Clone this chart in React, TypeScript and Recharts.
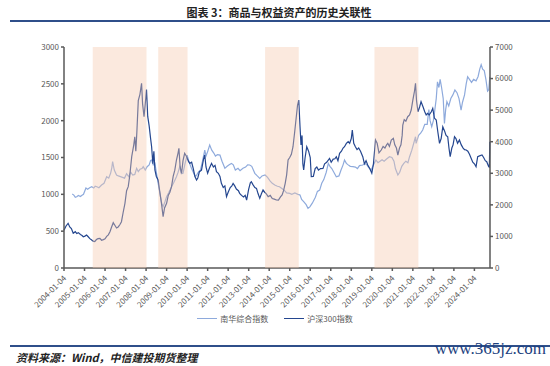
import * as React from 'react';
import { LineChart, Line, XAxis, YAxis, ReferenceArea } from 'recharts';

// 南华综合指数 (left axis), time as decimal year
const nanhuaTimes = [
  2004.4, 2004.48, 2004.55, 2004.62, 2004.7, 2004.8, 2004.86, 2004.95, 2005.07, 2005.15,
  2005.25, 2005.35, 2005.45, 2005.52, 2005.6, 2005.7, 2005.83, 2005.95, 2006.08, 2006.18,
  2006.27, 2006.33, 2006.37, 2006.45, 2006.56, 2006.65, 2006.75, 2006.85, 2006.95, 2007.05,
  2007.15, 2007.25, 2007.35, 2007.45, 2007.54, 2007.62, 2007.7, 2007.8, 2007.86, 2007.96,
  2008.05, 2008.15, 2008.22, 2008.27, 2008.35, 2008.43, 2008.5, 2008.59, 2008.68, 2008.76,
  2008.83, 2008.92, 2009.0, 2009.1, 2009.24, 2009.35, 2009.48, 2009.56, 2009.64, 2009.72,
  2009.8, 2009.9, 2010.0, 2010.08, 2010.21, 2010.3, 2010.4, 2010.46, 2010.55, 2010.65,
  2010.75, 2010.86, 2010.92, 2011.0, 2011.1, 2011.2, 2011.3, 2011.38, 2011.48, 2011.6,
  2011.7, 2011.84, 2011.95, 2012.05, 2012.16, 2012.25, 2012.35, 2012.48, 2012.58, 2012.72,
  2012.85, 2012.95, 2013.05, 2013.15, 2013.3, 2013.42, 2013.54, 2013.65, 2013.8, 2013.92,
  2014.05, 2014.15, 2014.27, 2014.4, 2014.5, 2014.62, 2014.75, 2014.85, 2015.0, 2015.1,
  2015.25, 2015.4, 2015.5, 2015.58, 2015.68, 2015.8, 2015.89, 2015.98, 2016.1, 2016.25,
  2016.35, 2016.46, 2016.56, 2016.66, 2016.78, 2016.88, 2016.96, 2017.05, 2017.15, 2017.27,
  2017.4, 2017.5, 2017.6, 2017.67, 2017.76, 2017.85, 2017.95, 2018.08, 2018.2, 2018.3,
  2018.4, 2018.56, 2018.66, 2018.76, 2018.86, 2018.97, 2019.08, 2019.2, 2019.3, 2019.4,
  2019.5, 2019.6, 2019.72, 2019.86, 2019.98, 2020.08, 2020.15, 2020.27, 2020.36, 2020.46,
  2020.56, 2020.66, 2020.76, 2020.84, 2020.95, 2021.05, 2021.13, 2021.16, 2021.28, 2021.38,
  2021.48, 2021.58, 2021.7, 2021.78, 2021.84, 2021.92, 2022.0, 2022.05, 2022.14, 2022.2,
  2022.27, 2022.33, 2022.4, 2022.48, 2022.54, 2022.6, 2022.66, 2022.75, 2022.85, 2022.95,
  2023.05, 2023.15, 2023.25, 2023.35, 2023.42, 2023.52, 2023.6, 2023.67, 2023.76, 2023.86,
  2023.96, 2024.08, 2024.18, 2024.26, 2024.33, 2024.4, 2024.48, 2024.56, 2024.64, 2024.7,
  2024.75,
];
const nanhuaValues = [
  1004, 990, 960, 968, 985, 970, 985, 1000, 1086, 1070,
  1090, 1103, 1085, 1110, 1103, 1090, 1126, 1150, 1239, 1220,
  1285, 1360, 1443, 1330, 1262, 1250, 1240, 1230, 1220, 1280,
  1240, 1300, 1262, 1270, 1353, 1310, 1340, 1350, 1375, 1330,
  1375, 1400, 1460, 1466, 1400, 1420, 1300, 1149, 1000, 880,
  832, 900, 968, 1020, 1103, 1160, 1239, 1300, 1375, 1280,
  1285, 1420, 1533, 1450, 1353, 1300, 1240, 1262, 1300, 1330,
  1450, 1601, 1520, 1580, 1669, 1600, 1560, 1520, 1540, 1533,
  1450, 1353, 1380, 1400, 1420, 1400, 1330, 1353, 1320, 1353,
  1370, 1400, 1398, 1380, 1285, 1250, 1217, 1250, 1262, 1230,
  1180, 1149, 1126, 1110, 1103, 1080, 1050, 1020, 1013, 1000,
  1020, 1000, 991, 930, 900, 860, 810, 830, 880, 960,
  1040, 1058, 1150, 1200, 1300, 1420, 1380, 1350, 1300, 1239,
  1250, 1330, 1400, 1466, 1420, 1400, 1380, 1375, 1370, 1350,
  1390, 1398, 1420, 1400, 1360, 1330, 1400, 1466, 1430, 1450,
  1470, 1450, 1480, 1511, 1500, 1450, 1350, 1262, 1300, 1380,
  1420, 1450, 1430, 1511, 1600, 1700, 1782, 1692, 1800, 1830,
  1873, 1950, 1950, 2150, 2000, 1917, 2000, 2099, 2300, 2528,
  2450, 2560, 2450, 2300, 1963, 2150, 2257, 2200, 2300, 2350,
  2416, 2380, 2300, 2144, 2250, 2350, 2500, 2596, 2560, 2520,
  2560, 2540, 2600, 2700, 2760, 2700, 2680, 2560, 2400, 2420,
  2596,
];

// 沪深300指数 (right axis)
const csiTimes = [
  2004.0, 2004.1, 2004.2, 2004.28, 2004.36, 2004.45, 2004.55, 2004.62, 2004.7, 2004.8,
  2004.88, 2004.94, 2005.02, 2005.1, 2005.18, 2005.26, 2005.35, 2005.42, 2005.5, 2005.58,
  2005.66, 2005.75, 2005.83, 2005.92, 2006.0, 2006.08, 2006.16, 2006.24, 2006.32, 2006.4,
  2006.47, 2006.56, 2006.64, 2006.72, 2006.8, 2006.88, 2006.97, 2007.05, 2007.13, 2007.2,
  2007.3, 2007.4, 2007.45, 2007.5, 2007.55, 2007.62, 2007.7, 2007.78, 2007.83, 2007.9,
  2007.96, 2008.02, 2008.08, 2008.15, 2008.22, 2008.27, 2008.33, 2008.38, 2008.43, 2008.5,
  2008.59, 2008.66, 2008.75, 2008.83, 2008.9, 2009.0, 2009.08, 2009.16, 2009.24, 2009.32,
  2009.4, 2009.48, 2009.56, 2009.6, 2009.66, 2009.73, 2009.8, 2009.88, 2009.96, 2010.05,
  2010.13, 2010.22, 2010.3, 2010.38, 2010.46, 2010.52, 2010.6, 2010.7, 2010.8, 2010.86,
  2010.92, 2011.0, 2011.08, 2011.19, 2011.28, 2011.36, 2011.43, 2011.52, 2011.6, 2011.67,
  2011.76, 2011.84, 2011.92, 2012.0, 2012.1, 2012.18, 2012.24, 2012.32, 2012.4, 2012.5,
  2012.56, 2012.65, 2012.75, 2012.83, 2012.9, 2013.0, 2013.08, 2013.13, 2013.2, 2013.3,
  2013.38, 2013.46, 2013.54, 2013.62, 2013.7, 2013.78, 2013.86, 2013.95, 2014.05, 2014.15,
  2014.25, 2014.35, 2014.45, 2014.55, 2014.63, 2014.7, 2014.78, 2014.85, 2014.92, 2015.0,
  2015.08, 2015.16, 2015.24, 2015.32, 2015.38, 2015.44, 2015.5, 2015.55, 2015.6, 2015.64,
  2015.68, 2015.75, 2015.83, 2015.92, 2016.0, 2016.05, 2016.15, 2016.24, 2016.32, 2016.4,
  2016.5, 2016.62, 2016.7, 2016.8, 2016.94, 2017.02, 2017.12, 2017.2, 2017.27, 2017.35,
  2017.43, 2017.52, 2017.6, 2017.67, 2017.76, 2017.85, 2017.92, 2018.0, 2018.05, 2018.12,
  2018.2, 2018.28, 2018.36, 2018.45, 2018.56, 2018.64, 2018.72, 2018.8, 2018.9, 2019.0,
  2019.08, 2019.18, 2019.26, 2019.35, 2019.46, 2019.55, 2019.64, 2019.72, 2019.78, 2019.86,
  2019.95, 2020.05, 2020.12, 2020.2, 2020.27, 2020.35, 2020.42, 2020.48, 2020.51, 2020.58,
  2020.66, 2020.75, 2020.84, 2020.92, 2021.0, 2021.08, 2021.13, 2021.18, 2021.25, 2021.33,
  2021.4, 2021.5, 2021.58, 2021.65, 2021.72, 2021.8, 2021.9, 2021.97, 2022.05, 2022.14,
  2022.22, 2022.3, 2022.38, 2022.46, 2022.54, 2022.62, 2022.7, 2022.76, 2022.82, 2022.9,
  2022.96, 2023.03, 2023.1, 2023.18, 2023.27, 2023.36, 2023.45, 2023.52, 2023.6, 2023.68,
  2023.76, 2023.84, 2023.92, 2024.0, 2024.08, 2024.16, 2024.25, 2024.37, 2024.45, 2024.53,
  2024.6, 2024.7, 2024.73, 2024.75,
];
const csiValues = [
  1200, 1330, 1415, 1300, 1250, 1100, 1150, 1090, 1120, 1060,
  1030, 990, 1010, 1045, 990, 930, 887, 850, 835, 900,
  930, 938, 880, 900, 925, 1000, 1050, 1150, 1300, 1435,
  1360, 1267, 1300, 1370, 1467, 1750, 2050, 2450, 2575, 2900,
  3526, 3900, 4158, 3700, 4300, 5300, 5500, 5850, 5200, 4792,
  5200, 5650, 4800, 4500, 4100, 3842, 3300, 3700, 3104, 2900,
  2787, 2450, 2049, 1625, 1900, 2049, 2300, 2400, 2575, 2900,
  3100, 3420, 3650, 3790, 3200, 3000, 3400, 3632, 3550, 3400,
  3315, 3350, 3150, 2900, 2787, 2850, 3051, 3100, 3450, 3579,
  3200, 3000, 3150, 3315, 3200, 3250, 3051, 3000, 2900, 2681,
  2550, 2600, 2260, 2400, 2550, 2600, 2681, 2600, 2500, 2450,
  2365, 2300, 2250, 2300, 2153, 2500, 2700, 2734, 2650, 2550,
  2523, 2350, 2206, 2350, 2470, 2400, 2350, 2260, 2300, 2200,
  2180, 2153, 2150, 2250, 2312, 2450, 2681, 2950, 3420, 3500,
  3600, 3842, 4300, 4792, 5150, 5320, 4500, 3900, 4200, 3300,
  3104, 3500, 3842, 3700, 3500, 2892, 2900, 3150, 3200, 3100,
  3150, 3156, 3300, 3350, 3473, 3350, 3450, 3460, 3526, 3400,
  3632, 3700, 3800, 3842, 3948, 4000, 3950, 4100, 4370, 3950,
  3842, 3750, 3800, 3700, 3526, 3300, 3400, 3262, 3150, 3000,
  3300, 4054, 3950, 3650, 3737, 3850, 3800, 3900, 3948, 3850,
  4050, 4106, 3900, 3800, 3579, 3800, 3900, 4200, 4528, 4700,
  4650, 4792, 4850, 5004, 5320, 5600, 5850, 5300, 4950, 5100,
  5267, 5100, 4950, 4850, 4900, 4850, 4950, 5058, 4750, 4687,
  4300, 3948, 4100, 4475, 4350, 4200, 4158, 3800, 3526, 3800,
  3900, 4158, 4100, 3950, 4054, 3900, 3800, 3750, 3737, 3700,
  3600, 3473, 3350, 3300, 3209, 3526, 3550, 3579, 3500, 3400,
  3368, 3209, 3200, 4000,
];

const yearTicks = [
  2004, 2005, 2006, 2007, 2008, 2009, 2010, 2011, 2012, 2013, 2014,
  2015, 2016, 2017, 2018, 2019, 2020, 2021, 2022, 2023, 2024,
];
const leftTicks = [0, 500, 1000, 1500, 2000, 2500, 3000];
const rightTicks = [0, 1000, 2000, 3000, 4000, 5000, 6000, 7000];
const shadedPeriods: [number, number][] = [
  [2005.4, 2008.02],
  [2008.59, 2010.02],
  [2013.8, 2015.44],
  [2019.13, 2021.27],
];

const nanhuaData = nanhuaTimes.map((t, i) => ({ t, v: nanhuaValues[i] }));
const csiData = csiTimes.map((t, i) => ({ t, v: csiValues[i] }));

const LIGHT = '#8eaadc';
const DARK = '#24468f';
const AXIS = '#595959';
const FONT = '"Noto Sans CJK SC", "Noto Sans", sans-serif';

const XTick = (props: any) => {
  const { x, y, payload } = props;
  return (
    <g transform={`translate(${x},${y + 3})`}>
      <text
        textAnchor="end"
        transform="rotate(-45)"
        fontSize={8}
        fill={AXIS}
        fontFamily={FONT}
        dy={4}
      >
        {`${payload.value}-01-04`}
      </text>
    </g>
  );
};

export default function App() {
  return (
    <div
      style={{
        position: 'absolute',
        left: 0,
        top: 0,
        width: 550,
        height: 366,
        background: '#fff',
        fontFamily: FONT,
        overflow: 'hidden',
      }}
    >
      <div
        style={{
          position: 'absolute',
          top: 4,
          left: 0,
          width: 558,
          textAlign: 'center',
          fontSize: 11,
          fontWeight: 700,
          color: '#222',
        }}
      >
        图表 3：商品与权益资产的历史关联性
      </div>
      <div
        style={{
          position: 'absolute',
          top: 20,
          left: 10,
          width: 540,
          height: 2,
          background: '#2f4f8a',
        }}
      />
      <LineChart
        width={550}
        height={366}
        margin={{ top: 47, right: 10, bottom: 66, left: 14 }}
        style={{ position: 'absolute', left: 0, top: 0 }}
      >
        <XAxis
          dataKey="t"
          type="number"
          domain={[2004, 2024.76]}
          ticks={yearTicks}
          allowDuplicatedCategory={false}
          tick={<XTick />}
          tickSize={3}
          height={32}
          interval={0}
          stroke={AXIS}
          strokeWidth={1.5}
        />
        <YAxis
          yAxisId="left"
          domain={[0, 3000]}
          ticks={leftTicks}
          width={50}
          tickSize={3}
          stroke={AXIS}
          strokeWidth={1.5}
          tick={{ fontSize: 8, fill: AXIS, fontFamily: FONT }}
        />
        <YAxis
          yAxisId="right"
          orientation="right"
          domain={[0, 7000]}
          ticks={rightTicks}
          width={50}
          tickSize={3}
          stroke={AXIS}
          strokeWidth={1.5}
          tick={{ fontSize: 8, fill: AXIS, fontFamily: FONT }}
        />
        <Line
          data={nanhuaData}
          dataKey="v"
          yAxisId="left"
          name="南华综合指数"
          stroke={LIGHT}
          strokeWidth={1.2}
          dot={false}
          isAnimationActive={false}
        />
        <Line
          data={csiData}
          dataKey="v"
          yAxisId="right"
          name="沪深300指数"
          stroke={DARK}
          strokeWidth={1.2}
          dot={false}
          isAnimationActive={false}
        />
        {shadedPeriods.map(([a, b], i) => (
          <ReferenceArea
            key={i}
            x1={a}
            x2={b}
            yAxisId="left"
            fill="#f5c9ad"
            fillOpacity={0.4}
            stroke="none"
            ifOverflow="hidden"
            zIndex={700}
          />
        ))}
      </LineChart>
      <div
        style={{
          position: 'absolute',
          top: 313,
          left: 0,
          width: 550,
          display: 'flex',
          justifyContent: 'center',
          gap: 16,
          fontSize: 8,
          color: AXIS,
        }}
      >
        <span style={{ display: 'flex', alignItems: 'center' }}>
          <span style={{ width: 20, height: 1.5, background: LIGHT, marginRight: 3 }} />
          南华综合指数
        </span>
        <span style={{ display: 'flex', alignItems: 'center' }}>
          <span style={{ width: 20, height: 1.5, background: DARK, marginRight: 3 }} />
          沪深300指数
        </span>
      </div>
      <div
        style={{
          position: 'absolute',
          top: 345,
          left: 10,
          width: 540,
          height: 2,
          background: '#2f4f8a',
        }}
      />
      <div
        style={{
          position: 'absolute',
          top: 349,
          left: 16,
          fontSize: 11,
          fontWeight: 700,
          fontStyle: 'italic',
          color: '#222',
        }}
      >
        资料来源：Wind，中信建投期货整理
      </div>
      <div
        style={{
          position: 'absolute',
          top: 339,
          right: 4,
          fontSize: 17,
          fontFamily: '"Liberation Serif", serif',
          color: '#1c3f7e',
        }}
      >
        www.365jz.com
      </div>
    </div>
  );
}
